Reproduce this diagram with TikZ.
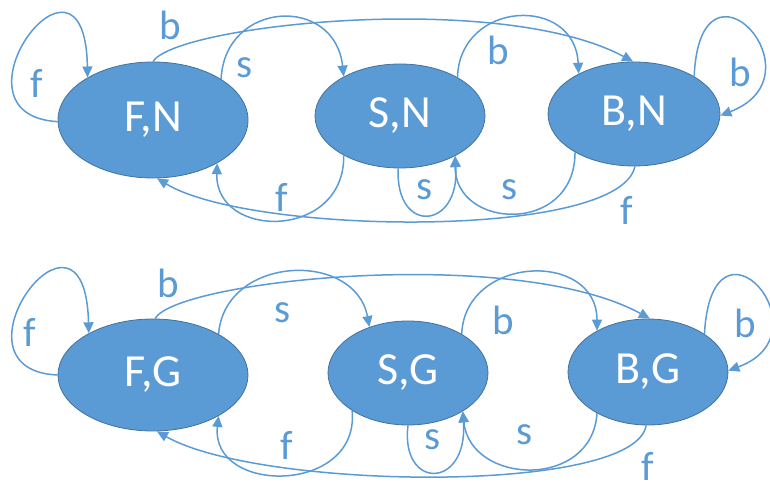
\documentclass[tikz,border=0pt]{standalone}
\usepackage{fontspec}
\setmainfont{Carlito}
\usetikzlibrary{shapes.geometric,arrows.meta}
\definecolor{nodeblue}{HTML}{5B9BD5}
\definecolor{nodeedge}{HTML}{41719C}
\definecolor{edgeblue}{HTML}{5B9BD5}
\begin{document}
\begin{tikzpicture}[x=0.5pt,y=-0.5pt,
  state/.style={ellipse, fill=nodeblue, draw=nodeedge, line width=0.4pt, text=white,
    font=\fontsize{23}{26}\selectfont, inner sep=0pt},
  trans/.style={draw=edgeblue, line width=0.75pt, -{Triangle[length=5.5pt,width=5pt]}},
  lbl/.style={text=edgeblue, font=\fontsize{20.5}{22}\selectfont, inner sep=0pt}]
\useasboundingbox (0,0) rectangle (770,491);
% ---- top row
\node[state, minimum width=95pt, minimum height=58pt] (fn) at (153,120) {F,N};
\node[state, minimum width=85pt, minimum height=52pt] (sn) at (400,116) {S,N};
\node[state, minimum width=86pt, minimum height=52pt] (bn) at (634,114) {B,N};
\draw[trans] (fn.181) .. controls (-60,115) and (85,-80) .. (fn.147);
\draw[trans] (fn.90) .. controls (175,25) and (500,-10) .. (bn.91);
\draw[trans] (fn.31.5) .. controls (225,0) and (335,-5) .. (sn.145.7);
\draw[trans] (sn.215) .. controls (345,240) and (215,240) .. (fn.-34.4);
\draw[trans] (bn.271) .. controls (620,240) and (250,235) .. (fn.-86.4);
\draw[trans] (sn.34.4) .. controls (460,0) and (575,-5) .. (bn.144.5);
\draw[trans] (sn.268) .. controls (395,235) and (460,230) .. (sn.324.7);
\draw[trans] (bn.213.5) .. controls (575,235) and (455,230) .. (sn.324.7);
\draw[trans] (bn.32.6) .. controls (700,-60) and (825,75) .. (bn.359);
\node[lbl] (t1) at (37,83) {f};
\node[lbl] (t2) at (170,25) {b};
\node[lbl] (t3) at (245,68) {s};
\node[lbl] (t4) at (282,197) {f};
\node[lbl] (t5) at (498,50) {b};
\node[lbl] (t6) at (425,190) {s};
\node[lbl] (t7) at (510,190) {s};
\node[lbl] (t8) at (627,210) {f};
\node[lbl] (t9) at (740,72) {b};
% ---- bottom row
\node[state, minimum width=95pt, minimum height=56pt] (fg) at (153,375) {F,G};
\node[state, minimum width=80pt, minimum height=52pt] (sg) at (408,373) {S,G};
\node[state, minimum width=80pt, minimum height=53pt] (bg) at (648,372) {B,G};
\draw[trans] (fg.180) .. controls (-60,370) and (85,175) .. (fg.147);
\draw[trans] (fg.88) .. controls (177,280) and (515,245) .. (bg.88);
\draw[trans] (fg.32) .. controls (225,255) and (355,250) .. (sg.130);
\draw[trans] (sg.214.9) .. controls (360,495) and (210,495) .. (fg.-32.7);
\draw[trans] (bg.268) .. controls (635,495) and (260,490) .. (fg.-86);
\draw[trans] (sg.36) .. controls (465,255) and (597,250) .. (bg.141.6);
\draw[trans] (sg.270) .. controls (400,490) and (468,490) .. (sg.325);
\draw[trans] (bg.219) .. controls (592,490) and (470,485) .. (sg.325);
\draw[trans] (bg.34.4) .. controls (712,198) and (830,333) .. (bg.1);
\node[lbl] (u1) at (30,332) {f};
\node[lbl] (u2) at (168,283) {b};
\node[lbl] (u3) at (283,313) {s};
\node[lbl] (u4) at (287,445) {f};
\node[lbl] (u5) at (503,320) {b};
\node[lbl] (u6) at (433,440) {s};
\node[lbl] (u7) at (525,435) {s};
\node[lbl] (u8) at (648,466) {f};
\node[lbl] (u9) at (745,323) {b};
\end{tikzpicture}
\end{document}
